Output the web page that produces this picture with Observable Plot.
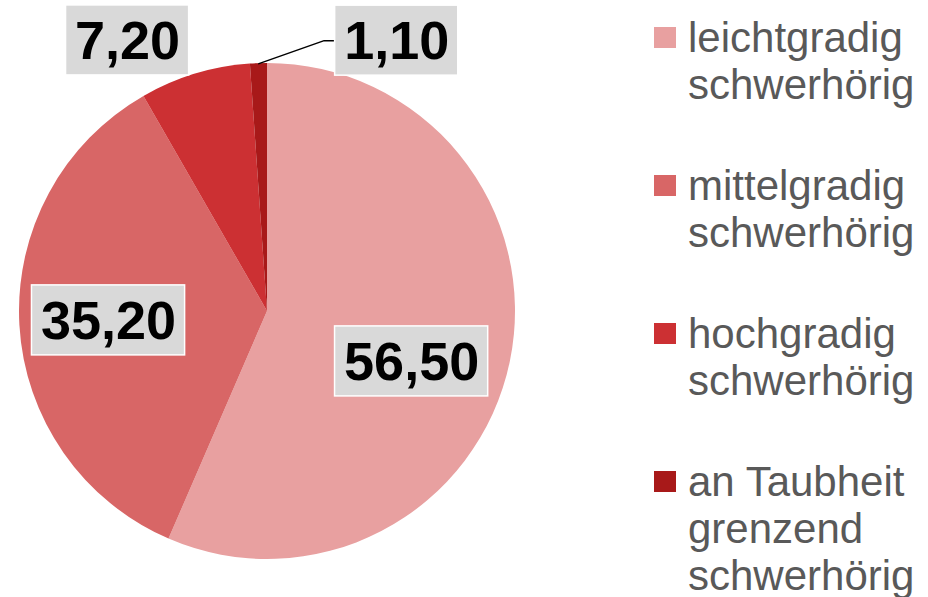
<!DOCTYPE html>
<html><head><meta charset="utf-8">
<script src="https://cdn.jsdelivr.net/npm/d3@7"></script>
<script src="https://cdn.jsdelivr.net/npm/@observablehq/plot@0.6"></script>
<style>
body{margin:0;background:#fff;}
#wrap{position:relative;width:928px;height:597px;overflow:hidden;}
#legend{position:absolute;left:654px;top:13.5px;width:274px;font-family:"Liberation Sans",Arial,sans-serif;font-size:42px;line-height:47px;color:#595959;}
.item{display:flex;margin-bottom:54px;}
.sw{width:22px;height:21px;margin-top:13px;margin-right:12px;flex:none;}
.lab{width:240px;}
</style></head><body><div id="wrap"></div>
<script>
// ---- data ----
const categories = ["leichtgradig schwerhörig", "mittelgradig schwerhörig", "hochgradig schwerhörig", "an Taubheit grenzend schwerhörig"];
const values = [56.5, 35.2, 7.2, 1.1];
const valueLabels = ["56,50", "35,20", "7,20", "1,10"];
const colors = ["#E8A0A0", "#D86666", "#CC3033", "#A81919"];

// ---- layout / style ----
const cx = 267, cy = 311, R = 248;
const labelPolar = [[0.615, 109.1], [0.642, 266.8], [1.23, 332.7], [1.21, 25.5]]; // [radius factor, angle deg]
const fontFamily = '"Liberation Sans", Arial, sans-serif';
const labelFontSize = 54, boxPadX = 9, boxH = 70;

const data = categories.map((c, i) => ({category: c, value: values[i], label: valueLabels[i]}));
const arcs = d3.pie().sort(null).value(d => d.value)(data);
const color = Plot.scale({color: {type: "ordinal", domain: categories, range: colors}});

const ctx = document.createElement("canvas").getContext("2d");
ctx.font = `bold ${labelFontSize}px ${fontFamily}`;

const labels = data.map((d, i) => {
  const [rf, deg] = labelPolar[i];
  const a = deg * Math.PI / 180;
  const w = ctx.measureText(d.label).width + 2 * boxPadX;
  return {...d, x: rf * Math.sin(a), y: rf * Math.cos(a), w};
});

// leader line for the smallest slice
const small = arcs[3];
const midA = (small.startAngle + small.endAngle) / 2;
const L = labels[3];
const leader = [
  {x: Math.sin(midA), y: Math.cos(midA)},
  {x: L.x - (L.w / 2 + 11) / R, y: L.y},
  {x: L.x - (L.w / 2) / R, y: L.y}
];

function arcMark(index, {x, y}) {
  const g = d3.create("svg:g").attr("transform", `translate(${x(0)},${y(0)})`);
  const arc = d3.arc().innerRadius(0).outerRadius(x(1) - x(0));
  g.selectAll("path").data(arcs).join("path")
    .attr("d", arc)
    .attr("fill", d => color.apply(d.data.category));
  return g.node();
}
function boxMark(index, {x, y}) {
  const g = d3.create("svg:g");
  g.selectAll("rect").data(labels).join("rect")
    .attr("x", d => x(d.x) - d.w / 2)
    .attr("y", d => y(d.y) - boxH / 2)
    .attr("width", d => d.w)
    .attr("height", boxH)
    .attr("fill", "#D9D9D9")
    .attr("stroke", "#fff")
    .attr("stroke-width", 1.5);
  return g.node();
}

const plot = Plot.plot({
  width: 928, height: 597, margin: 0,
  x: {domain: [-1, 1], range: [cx - R, cx + R], axis: null},
  y: {domain: [-1, 1], range: [cy + R, cy - R], axis: null},
  style: {fontFamily, background: "transparent"},
  marks: [
    arcMark,
    Plot.line(leader, {x: "x", y: "y", stroke: "black", strokeWidth: 1.5}),
    boxMark,
    Plot.text(labels, {x: "x", y: "y", text: "label", fontSize: labelFontSize, fontWeight: "bold", fill: "black", textAnchor: "middle", lineAnchor: "middle", dy: 1})
  ]
});

const wrap = document.getElementById("wrap");
wrap.appendChild(plot);

const legend = d3.select(wrap).append("div").attr("id", "legend");
const items = legend.selectAll(".item").data(categories).join("div").attr("class", "item");
items.append("div").attr("class", "sw").style("background", d => color.apply(d));
items.append("div").attr("class", "lab").text(d => d);
</script>
</body></html>
